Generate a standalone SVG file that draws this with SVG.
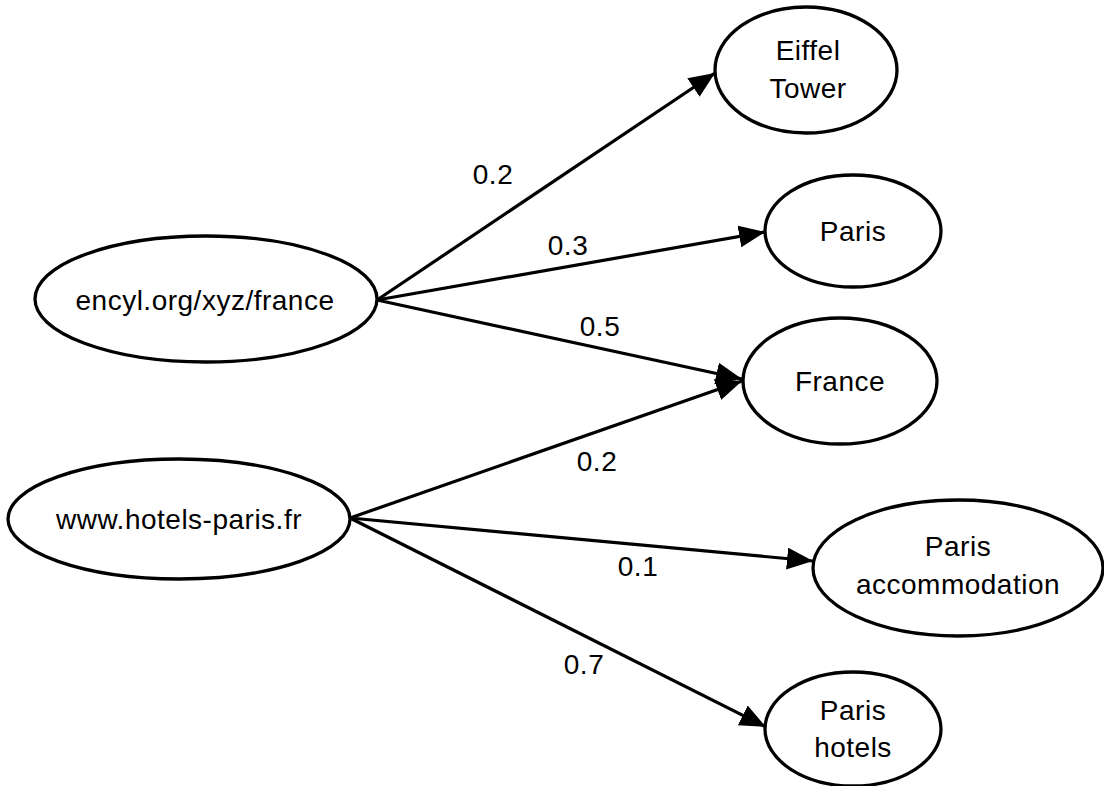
<svg xmlns="http://www.w3.org/2000/svg" width="1104" height="786" viewBox="0 0 1104 786">
<style>
.n{fill:#fff;stroke:#000;stroke-width:3.3}
.t{font-family:"Liberation Sans",Arial,sans-serif;font-size:28px;letter-spacing:0.5px;text-anchor:middle;fill:#000}
.e{stroke:#000;stroke-width:3.2;fill:none;marker-end:url(#ah)}
</style>
<defs>
<marker id="ah" markerUnits="userSpaceOnUse" markerWidth="30" markerHeight="24" refX="26" refY="11" orient="auto">
<path d="M0,0 L26,11 L0,22 Z" fill="#000"/>
</marker>
</defs>
<rect width="1104" height="786" fill="#fff"/>
<g id="connectors">
<line class="e" x1="377" y1="300" x2="715" y2="73"/>
<line class="e" x1="377" y1="300" x2="765" y2="232"/>
<line class="e" x1="377" y1="300" x2="742" y2="379"/>
<line class="e" x1="350" y1="518" x2="742" y2="381"/>
<line class="e" x1="350" y1="518" x2="813" y2="561"/>
<line class="e" x1="350" y1="518" x2="766" y2="727"/>
<text class="t" x="493" y="184">0.2</text>
<text class="t" x="568" y="255">0.3</text>
<text class="t" x="600" y="336">0.5</text>
<text class="t" x="597" y="471">0.2</text>
<text class="t" x="638" y="576">0.1</text>
<text class="t" x="584" y="674">0.7</text>
</g>
<g id="encyl"><ellipse class="n" cx="206" cy="299" rx="171" ry="63"/><text class="t" x="205" y="310">encyl.org/xyz/france</text></g>
<g id="hotels"><ellipse class="n" cx="179" cy="519" rx="171" ry="60"/><text class="t" x="179" y="529">www.hotels-paris.fr</text></g>
<g id="eiffel"><ellipse class="n" cx="806" cy="70" rx="91" ry="63"/><text class="t" x="808" y="60">Eiffel</text><text class="t" x="808" y="98">Tower</text></g>
<g id="paris"><ellipse class="n" cx="853" cy="231" rx="88" ry="56"/><text class="t" x="853" y="241">Paris</text></g>
<g id="france"><ellipse class="n" cx="840" cy="381" rx="97" ry="63"/><text class="t" x="840" y="391">France</text></g>
<g id="paris-accommodation"><ellipse class="n" cx="958" cy="568" rx="145" ry="68"/><text class="t" x="958" y="556">Paris</text><text class="t" x="958" y="594">accommodation</text></g>
<g id="paris-hotels"><ellipse class="n" cx="853" cy="729" rx="88" ry="57"/><text class="t" x="853" y="720">Paris</text><text class="t" x="853" y="757">hotels</text></g>
</svg>
